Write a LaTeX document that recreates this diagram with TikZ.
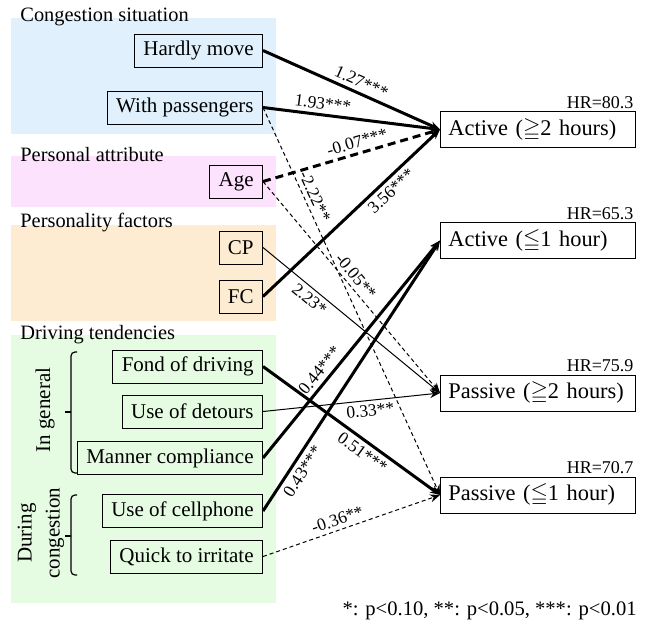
\documentclass[tikz,border=0pt]{standalone}
\usepackage{fontspec}
\usepackage{amssymb}
\setmainfont{Liberation Serif}
\usetikzlibrary{arrows.meta}

\definecolor{congback}{RGB}{224,241,253}
\definecolor{attrback}{RGB}{252,226,252}
\definecolor{persback}{RGB}{253,236,210}
\definecolor{driveback}{RGB}{229,251,226}

\begin{document}
\begin{tikzpicture}[
        x=0.5pt, y=-0.5pt,
        factor/.style={draw, anchor=east, minimum height=16.5pt, inner xsep=4.5pt, font=\fontsize{10.5}{12}\selectfont},
        outcome/.style={draw, anchor=west, minimum height=17.5pt, text width=89.5pt, inner xsep=4pt, align=left, font=\fontsize{11.2}{13}\selectfont},
        hr/.style={anchor=south east, inner sep=1pt, font=\fontsize{9}{11}\selectfont},
        grouptitle/.style={anchor=west, inner sep=0pt, font=\fontsize{10.2}{12}\selectfont},
        coef/.style={font=\fontsize{8.7}{10}\selectfont, sloped, inner sep=2pt},
        link/.style={-{Stealth[length=5pt,width=4pt]}},
        strong/.style={link, line width=1.5pt},
        weak/.style={link, line width=0.5pt},
        neg/.style={dash pattern=on 2pt off 1.5pt}
    ]
        \useasboundingbox (0,0) rectangle (651,627);

        % Group backgrounds
        \fill[congback] (11,18) rectangle (276,134);
        \fill[attrback] (11,156) rectangle (276,207);
        \fill[persback] (11,225) rectangle (276,321);
        \fill[driveback] (11,335) rectangle (276,603);

        \node[grouptitle] (tcong) at (20,17) {Congestion situation};
        \node[grouptitle] (tattr) at (20,155) {Personal attribute};
        \node[grouptitle] (tpers) at (20,223) {Personality factors};
        \node[grouptitle] (tdrive) at (20,335) {Driving tendencies};

        % Factors
        \node[factor] (hardly) at (263,50.5) {Hardly move};
        \node[factor] (passengers) at (263,107.5) {With passengers};
        \node[factor] (age) at (263,181.5) {Age};
        \node[factor] (cp) at (263,247.5) {CP};
        \node[factor] (fc) at (263,296.5) {FC};
        \node[factor] (fond) at (263,366.5) {Fond of driving};
        \node[factor] (detours) at (263,411.5) {Use of detours};
        \node[factor] (manner) at (263,458) {Manner compliance};
        \node[factor] (cellphone) at (263,511) {Use of cellphone};
        \node[factor] (irritate) at (263,556.5) {Quick to irritate};

        % Sub groups of driving tendencies
        \draw[line width=0.6pt, rounded corners=2pt] (77,352) -- (71,352) -- (71,473) -- (77,473);
        \draw[line width=0.6pt] (71,412) -- (65,412);
        \draw[line width=0.6pt, rounded corners=2pt] (77,495) -- (71,495) -- (71,575) -- (77,575);
        \draw[line width=0.6pt] (71,536) -- (65,536);
        \node[rotate=90, font=\fontsize{10.5}{12}\selectfont] (general) at (45,410) {In general};
        \node[rotate=90, align=center, font=\fontsize{10.5}{14}\selectfont] (during) at (41,533) {During\\congestion};

        % Outcomes
        \node[outcome] (act2) at (440,129.5) {Active ($\geqq$2 hours)};
        \node[outcome] (act1) at (440,240.5) {Active ($\leqq$1 hour)};
        \node[outcome] (pas2) at (440,393) {Passive ($\geqq$2 hours)};
        \node[outcome] (pas1) at (440,495) {Passive ($\leqq$1 hour)};

        \node[hr] (hract2) at (act2.north east) {HR=80.3};
        \node[hr] (hract1) at (act1.north east) {HR=65.3};
        \node[hr] (hrpas2) at (pas2.north east) {HR=75.9};
        \node[hr] (hrpas1) at (pas1.north east) {HR=70.7};

        % Paths into Active (>=2 hours)
        \draw[strong] (hardly.east) -- node[coef, pos=0.53, above] {1.27***} (act2.west);
        \draw[strong] (passengers.east) -- node[coef, pos=0.33, above] {1.93***} (act2.west);
        \draw[strong, dash pattern=on 4pt off 2.5pt] (age.east) -- node[coef, pos=0.55, above] {-0.07***} (act2.west);
        \draw[strong] (fc.east) -- node[coef, pos=0.68, below] {3.56***} (act2.west);

        % Paths into Active (<=1 hour)
        \draw[strong] (manner.east) -- node[coef, pos=0.37, above] {0.44***} (act1.west);
        \draw[strong] (cellphone.east) -- node[coef, pos=0.17, below] {0.43***} (act1.west);

        % Paths into Passive (>=2 hours)
        \draw[weak] (cp.east) -- node[coef, pos=0.3, below] {2.23*} (pas2.west);
        \draw[weak, neg] (age.east) -- node[coef, pos=0.48, above] {-0.05**} (pas2.west);
        \draw[weak] (detours.east) -- node[coef, pos=0.6, below] {0.33**} (pas2.west);

        % Paths into Passive (<=1 hour)
        \draw[weak, neg] (passengers.east) -- node[coef, pos=0.24, above] {-2.22**} (pas1.west);
        \draw[strong] (fond.east) -- node[coef, pos=0.6, below] {0.51***} (pas1.west);
        \draw[weak, neg] (irritate.east) -- node[coef, pos=0.44, above] {-0.36**} (pas1.west);

        \node[anchor=east, inner sep=0pt, font=\fontsize{10.3}{12}\selectfont] (note) at (637,611) {*: p<0.10, **: p<0.05, ***: p<0.01};
    \end{tikzpicture}
\end{document}
